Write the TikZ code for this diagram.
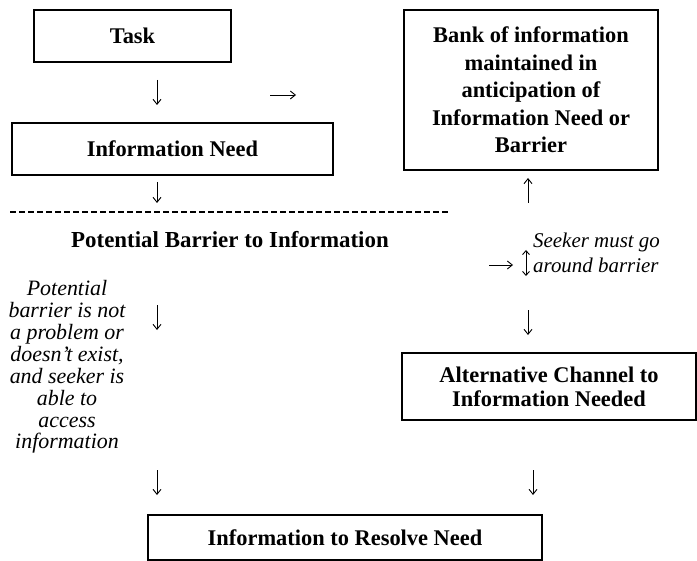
\documentclass[tikz,border=0pt]{standalone}
\usepackage{fontspec}
\setmainfont{Liberation Serif}
\usetikzlibrary{arrows.meta}
\tikzset{
  box/.style={draw,rectangle,line width=1.3bp,align=center,inner sep=0pt,
    font=\bfseries\fontsize{22.5}{27.5}\selectfont},
  arr/.style={line width=0.9bp,-{Straight Barb[length=5bp,width=8bp]}},
  darr/.style={line width=0.9bp,{Straight Barb[length=4bp,width=7bp]}-{Straight Barb[length=4bp,width=7bp]}},
  note/.style={align=center,inner sep=0pt,font=\itshape\fontsize{22}{22}\selectfont},
  title/.style={inner sep=0pt,font=\bfseries\fontsize{23}{25}\selectfont}
}
\begin{document}
\begin{tikzpicture}[x=1bp,y=-1bp]
        \useasboundingbox (0,0) rectangle (697,561);
        %% Boxes
        \node[box,minimum width=197bp,minimum height=52bp] (task) at (132.5,36) {Task};
        \node[box,minimum width=321bp,minimum height=52bp] (need) at (172.5,149) {Information Need};
        \node[box,minimum width=254bp,minimum height=160bp] (bank) at (531,90)
            {Bank of information\\maintained in\\anticipation of\\Information Need or\\Barrier};
        \node[box,minimum width=294bp,minimum height=67bp,
            font=\bfseries\fontsize{22.5}{24}\selectfont] (alt) at (549,386.5)
            {Alternative Channel to\\Information Needed};
        \node[box,minimum width=394bp,minimum height=45bp] (resolve) at (345,537.5)
            {Information to Resolve Need};
        %% Barrier
        \draw[line width=1.2bp,dash pattern=on 6bp off 3bp] (10,212) coordinate (barL) -- (450,212) coordinate (barR);
        \node[title] (barrier) at (230,240) {Potential Barrier to Information};
        %% Notes
        \node[note] (noproblem) at (67,367)
            {Potential\\barrier is not\\a problem or\\doesn't exist,\\and seeker is\\able to\\access\\information};
        \node[note,align=left,anchor=west,font=\itshape\fontsize{21}{25}\selectfont] (around) at (533,252.5)
            {Seeker must go\\around barrier};
        %% Arrows
        \coordinate (a1) at (157,80);
        \coordinate (a2) at (270,95);
        \coordinate (a3) at (157,182);
        \coordinate (a4) at (528,203);
        \coordinate (a5) at (489,265);
        \coordinate (a6) at (526,250);
        \coordinate (a7) at (157,305);
        \coordinate (a8) at (528,310);
        \coordinate (a9) at (157,470);
        \coordinate (a10) at (533,470);
        \draw[arr] (a1) --++ (0,25);
        \draw[arr] (a2) --++ (26,0);
        \draw[arr] (a3) --++ (0,21);
        \draw[arr] (a4) --++ (0,-25);
        \draw[arr] (a5) --++ (24,0);
        \draw[darr] (a6) --++ (0,26);
        \draw[arr] (a7) --++ (0,25);
        \draw[arr] (a8) --++ (0,25);
        \draw[arr] (a9) --++ (0,25);
        \draw[arr] (a10) --++ (0,25);
\end{tikzpicture}
\end{document}
